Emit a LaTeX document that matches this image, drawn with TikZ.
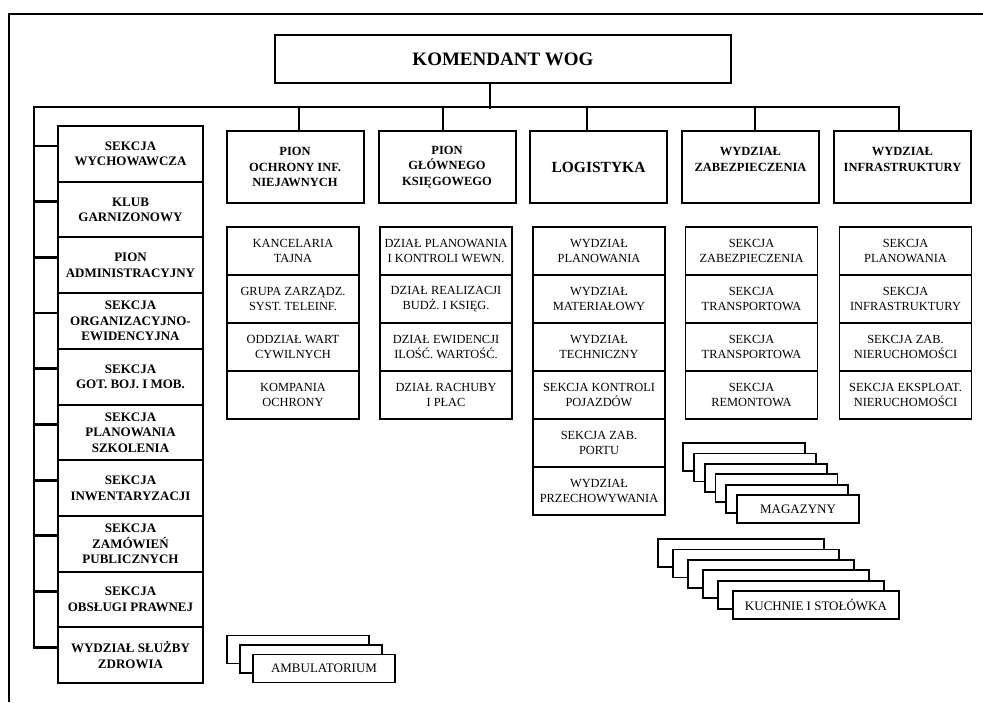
\documentclass[tikz,border=0pt]{standalone}
\usepackage{fontspec}
\setmainfont{Liberation Serif}
\usepackage{tikz}
\tikzstyle{chart}=[x=1pt,y=-1pt]
\tikzstyle{chief}=[rectangle, draw, line width=2pt, fill=white, minimum width=456pt, minimum height=48pt, font=\fontsize{19}{22}\selectfont\bfseries]
\tikzstyle{head}=[rectangle, draw, line width=2pt, fill=white, minimum width=137pt, minimum height=72pt, inner sep=1pt, align=center, font=\fontsize{12.5}{15.5}\selectfont\bfseries]
\tikzstyle{side}=[rectangle, draw, line width=2pt, fill=white, minimum width=145pt, minimum height=55.7pt, inner sep=1pt, align=center, font=\fontsize{13}{15.5}\selectfont\bfseries]
\tikzstyle{unit}=[rectangle, draw, line width=1.8pt, fill=white, minimum width=132pt, minimum height=48pt, inner sep=1pt, align=center, font=\fontsize{12.4}{15}\selectfont]
\tikzstyle{stack}=[rectangle, draw, line width=1.8pt, fill=white, minimum height=28pt, inner sep=1pt, font=\fontsize{13}{15}\selectfont]
\tikzstyle{bus}=[line width=2.8pt, line cap=rect]
\tikzstyle{tick}=[line width=2.8pt]
\tikzstyle{frame}=[line width=2pt]

\begin{document}
\begin{tikzpicture}[chart]
				\useasboundingbox (0,0) rectangle (983,702);
				\draw[frame] (983,14) -| (9,702);

				%The commander
				\draw (503,59) node[chief] (chief) {KOMENDANT WOG};

				%The left column
				\draw (130.5,153.9) node[side] (s1) {SEKCJA\\WYCHOWAWCZA};
				\draw (130.5,209.6) node[side] (s2) {KLUB\\GARNIZONOWY};
				\draw (130.5,265.3) node[side] (s3) {PION\\ADMINISTRACYJNY};
				\draw (130.5,321.0) node[side] (s4) {SEKCJA\\ORGANIZACYJNO-\\EWIDENCYJNA};
				\draw (130.5,376.7) node[side] (s5) {SEKCJA\\GOT. BOJ. I MOB.};
				\draw (130.5,432.4) node[side] (s6) {SEKCJA\\PLANOWANIA\\SZKOLENIA};
				\draw (130.5,488.1) node[side] (s7) {SEKCJA\\INWENTARYZACJI};
				\draw (130.5,543.8) node[side] (s8) {SEKCJA\\ZAMÓWIEŃ\\PUBLICZNYCH};
				\draw (130.5,599.5) node[side] (s9) {SEKCJA\\OBSŁUGI PRAWNEJ};
				\draw (130.5,655.2) node[side] (s10) {WYDZIAŁ SŁUŻBY\\ZDROWIA};

				%The heads
				\draw (295,167) node[head] (h1) {PION\\OCHRONY INF.\\NIEJAWNYCH};
				\draw (447,167) node[head] (h2) {PION\\GŁÓWNEGO\\KSIĘGOWEGO};
				\draw (598.5,167) node[head, font=\fontsize{15.5}{18}\selectfont\bfseries] (h3) {LOGISTYKA};
				\draw (750.5,167) node[head] (h4) {WYDZIAŁ\\ZABEZPIECZENIA\\\mbox{}};
				\draw (902.5,167) node[head] (h5) {WYDZIAŁ\\INFRASTRUKTURY\\\mbox{}};

				%The units
				\draw (293,251) node[unit] (a1) {KANCELARIA\\TAJNA};
				\draw (293,299) node[unit] (a2) {GRUPA ZARZĄDZ.\\SYST. TELEINF.};
				\draw (293,347) node[unit] (a3) {ODDZIAŁ WART\\CYWILNYCH};
				\draw (293,395) node[unit] (a4) {KOMPANIA\\OCHRONY};

				\draw (446,251) node[unit] (b1) {DZIAŁ PLANOWANIA\\I KONTROLI WEWN.};
				\draw (446,299) node[unit] (b2) {DZIAŁ REALIZACJI\\BUDŻ. I KSIĘG.};
				\draw (446,347) node[unit] (b3) {DZIAŁ EWIDENCJI\\ILOŚĆ. WARTOŚĆ.};
				\draw (446,395) node[unit] (b4) {DZIAŁ RACHUBY\\I PŁAC};

				\draw (599,251) node[unit] (c1) {WYDZIAŁ\\PLANOWANIA};
				\draw (599,299) node[unit] (c2) {WYDZIAŁ\\MATERIAŁOWY};
				\draw (599,347) node[unit] (c3) {WYDZIAŁ\\TECHNICZNY};
				\draw (599,395) node[unit] (c4) {SEKCJA KONTROLI\\POJAZDÓW};
				\draw (599,443) node[unit] (c5) {SEKCJA ZAB.\\PORTU};
				\draw (599,491) node[unit] (c6) {WYDZIAŁ\\PRZECHOWYWANIA};

				\draw (751.5,251) node[unit] (d1) {SEKCJA\\ZABEZPIECZENIA};
				\draw (751.5,299) node[unit] (d2) {SEKCJA\\TRANSPORTOWA};
				\draw (751.5,347) node[unit] (d3) {SEKCJA\\TRANSPORTOWA};
				\draw (751.5,395) node[unit] (d4) {SEKCJA\\REMONTOWA};

				\draw (905.5,251) node[unit] (e1) {SEKCJA\\PLANOWANIA};
				\draw (905.5,299) node[unit] (e2) {SEKCJA\\INFRASTRUKTURY};
				\draw (905.5,347) node[unit] (e3) {SEKCJA ZAB.\\NIERUCHOMOŚCI};
				\draw (905.5,395) node[unit] (e4) {SEKCJA EKSPLOAT.\\NIERUCHOMOŚCI};

				%The stacks
				\foreach \i in {2,1}
					\draw (324-13*\i,668.5-9.5*\i) node[stack, minimum width=142pt] {};
				\draw (324,668.5) node[stack, minimum width=142pt] (amb) {AMBULATORIUM};

				\foreach \i in {5,...,1}
					\draw (798-10.8*\i,509-10.4*\i) node[stack, minimum width=122pt] {};
				\draw (798,509) node[stack, minimum width=122pt] (mag) {MAGAZYNY};

				\foreach \i in {5,...,1}
					\draw (816-15*\i,605-10.4*\i) node[stack, minimum width=166pt] {};
				\draw (816,605) node[stack, minimum width=166pt] (kuch) {KUCHNIE I STOŁÓWKA};

				%The bus
				\coordinate (busl) at (34,107);
				\coordinate (busr) at (899,107);
				\draw[bus] (busr) -- (busl) |- ([yshift=8pt]s10.west);
				\draw[bus] ([xshift=-13pt]chief.south) -- ++(0,24);
				\draw[bus] ([xshift=4pt]h1.north) -- ++(0,-23);
				\draw[bus] ([xshift=-4pt]h2.north) -- ++(0,-23);
				\draw[bus] ([xshift=-11.5pt]h3.north) -- ++(0,-23);
				\draw[bus] ([xshift=4.5pt]h4.north) -- ++(0,-23);
				\draw[bus] ([xshift=-3.5pt]h5.north) -- ++(0,-23);
				\foreach \i in {1,...,9}
					\draw[tick] ([yshift=8pt]s\i.west) -- ++(-24,0);
			\end{tikzpicture}
\end{document}
